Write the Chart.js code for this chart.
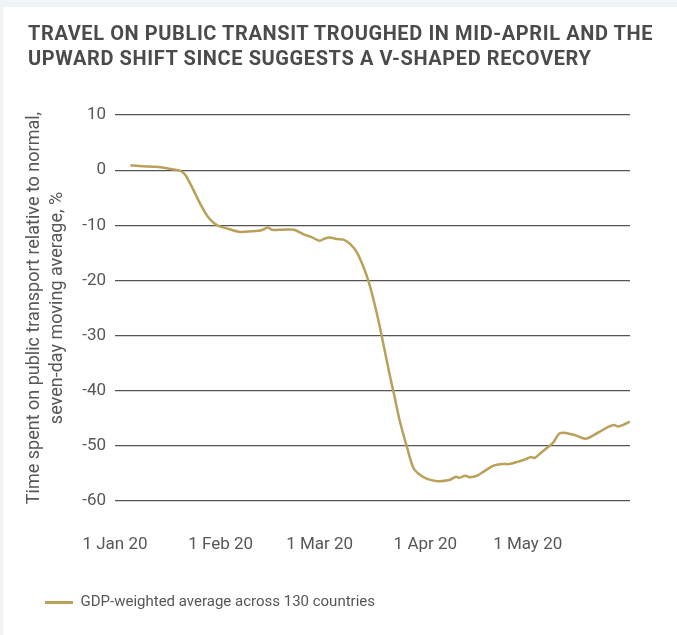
<!DOCTYPE html>
<html>
<head>
<meta charset="utf-8">
<script src="https://cdn.jsdelivr.net/npm/chart.js@4/dist/chart.umd.min.js"></script>
<style>
    html, body { margin: 0; padding: 0; }
    body { width: 677px; height: 635px; background: #eff4f7; position: relative; overflow: hidden; }
    .panel { position: absolute; left: 3px; top: 7px; width: 674px; height: 628px; background: #fff; }
    .title {
        position: absolute; left: 28px; top: 21px; z-index: 2; white-space: nowrap;
        font-family: Roboto, sans-serif; font-weight: 700; font-size: 20px;
        line-height: 25px; color: #4b4b4b; letter-spacing: 0.6px;
    }
    #chart { position: absolute; left: 0; top: 0; }
</style>
</head>
<body>
<div class="panel"></div>
<div class="title">TRAVEL ON PUBLIC TRANSIT TROUGHED IN MID-APRIL AND THE<br>UPWARD SHIFT SINCE SUGGESTS A V-SHAPED RECOVERY</div>
<canvas id="chart" width="677" height="635"></canvas>
<script>
// days since 1 Jan 2020
const days = [4.5, 8, 12, 15.5, 19, 20.5, 22.5, 24.5, 26.5, 28, 30, 33, 36.5, 40, 43, 44.8, 46, 49, 52.5, 55.5,
    57.5, 60, 61.5, 63, 65, 67, 69, 71, 73, 74.5, 76, 77.5, 79, 80.5, 82, 83.5, 85.5, 87.5, 89.5, 91.5,
    94.5, 98, 100, 101, 102.7, 104, 106.5, 108.5, 111, 113.5, 115.5, 118, 120.5, 122, 123, 125, 127, 128.5, 130.5, 134.5,
    138, 140.5, 142.5, 144.5, 146.3, 147.5, 149, 151];
const transitValues = [0.9, 0.7, 0.6, 0.3, -0.1, -0.8, -3.0, -5.5, -7.8, -9.0, -10.0, -10.6, -11.2, -11.1, -10.9, -10.4, -10.8, -10.8, -10.8, -11.7,
    -12.1, -12.8, -12.4, -12.2, -12.5, -12.6, -13.4, -15.0, -17.8, -20.5, -24.0, -28.0, -32.5, -37.0, -41.2, -45.5, -50.0, -54.0, -55.3, -56.0,
    -56.4, -56.2, -55.6, -55.8, -55.4, -55.7, -55.3, -54.5, -53.6, -53.3, -53.3, -52.9, -52.4, -52.0, -52.2, -51.2, -50.2, -49.4, -47.7, -48.0,
    -48.7, -48.0, -47.3, -46.6, -46.2, -46.5, -46.2, -45.6];

const tickDays = [0, 31, 60, 91, 121];
const tickLabels = ['1 Jan 20', '1 Feb 20', '1 Mar 20', '1 Apr 20', '1 May 20'];

const seriesLabel = 'GDP-weighted average across 130 countries';
const yTitle = ['Time spent on public transport relative to normal,', 'seven-day moving average, %'];

const gold = '#b9a15a';
const textGray = '#575757';

new Chart(document.getElementById('chart'), {
    type: 'line',
    data: {
        datasets: [{
            label: seriesLabel,
            data: days.map((d, i) => ({ x: d, y: transitValues[i] })),
            borderColor: gold,
            backgroundColor: gold,
            borderWidth: 2.5,
            pointRadius: 0,
            tension: 0.3,
            fill: false,
        }],
    },
    options: {
        responsive: false,
        animation: false,
        layout: { padding: { left: 35, right: 47, top: 115, bottom: 15 } },
        plugins: {
            tooltip: { enabled: false },
            legend: {
                position: 'bottom',
                align: 'start',
                labels: {
                    boxWidth: 28,
                    boxHeight: 3,
                    padding: 10,
                    color: textGray,
                    font: { family: 'Roboto', size: 15 },
                    generateLabels: (chart) => Chart.defaults.plugins.legend.labels.generateLabels(chart)
                        .map((item) => ({ ...item, lineWidth: 0, fillStyle: gold })),
                },
            },
        },
        scales: {
            x: {
                type: 'linear',
                min: 0,
                max: 151,
                grid: { display: false, drawTicks: false },
                border: { display: false },
                afterBuildTicks: (scale) => { scale.ticks = tickDays.map((v) => ({ value: v })); },
                afterFit: (scale) => { scale.height = 84; },
                ticks: {
                    autoSkip: false,
                    maxRotation: 0,
                    padding: 34,
                    color: textGray,
                    font: { family: 'Roboto', size: 17 },
                    callback: (value) => tickLabels[tickDays.indexOf(value)],
                },
            },
            y: {
                min: -60,
                max: 10,
                grid: { color: '#555', lineWidth: 1.2, drawTicks: false },
                border: { display: false },
                afterFit: (scale) => { scale.width = 80; },
                ticks: {
                    stepSize: 10,
                    padding: 9,
                    color: textGray,
                    font: { family: 'Roboto', size: 17 },
                },
                title: {
                    display: true,
                    text: yTitle,
                    color: textGray,
                    padding: { top: -12.7, bottom: 0 },
                    font: { family: 'Roboto', size: 18, lineHeight: 1.3 },
                },
            },
        },
    },
});
</script>
</body>
</html>
